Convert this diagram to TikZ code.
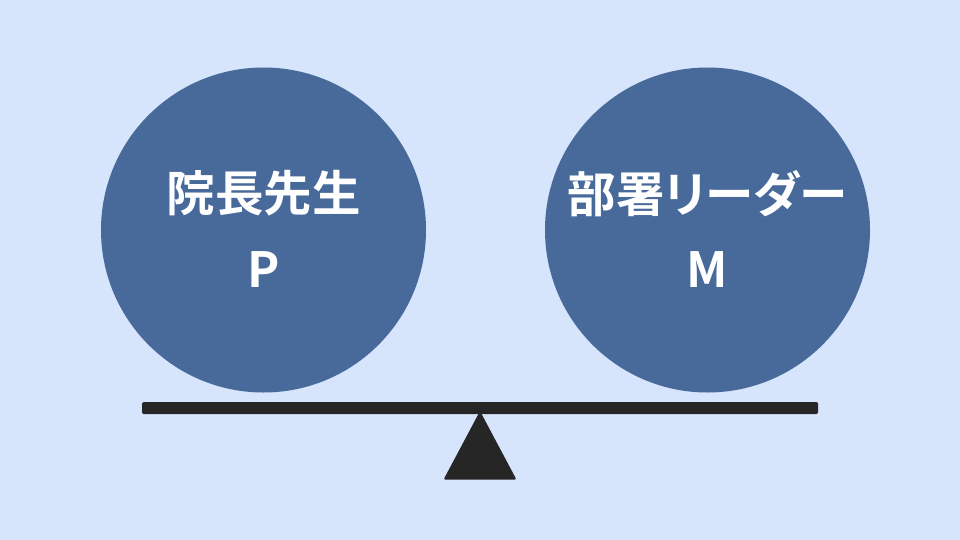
\documentclass[tikz,border=0pt]{standalone}
\usepackage{fontspec}
\setmainfont{Noto Sans CJK JP}[BoldFont={* Bold}]
\definecolor{bgblue}{HTML}{D6E4FC}
\definecolor{ballblue}{HTML}{476A9A}
\definecolor{beamdark}{HTML}{262626}
\tikzset{ball/.style={circle, fill=ballblue, minimum size=325\pgflinewidth, inner sep=0pt},
	ballname/.style={text=white, font=\bfseries\fontsize{48.5pt}{48.5pt}\selectfont, inner sep=0pt}}
\begin{document}
\begin{tikzpicture}[x=1pt, y=-1pt, line width=1pt]
	\fill[bgblue] (0, 0) rectangle (960, 540);
	\useasboundingbox (0, 0) rectangle (960, 540);
	\node[ball] (LEFT)at(263.5, 230) {};
	\node[ball] (RIGHT)at(707.5, 230) {};
	\node[ballname] (LEFTNAME)at(263.5, 193.5) {院長先生};
	\node[ballname] (LEFTKEY)at(263.5, 270) {P};
	\node[ballname] (RIGHTNAME)at(707.5, 193.5) {\addfontfeature{RawFeature=+palt}部署リーダー};
	\node[ballname] (RIGHTKEY)at(707.5, 270) {M};
	\fill[beamdark, rounded corners=1.5pt] (142, 402) rectangle (818, 414);
	\fill[beamdark, rounded corners=1.5pt] (480, 411) -- (516.5, 479.7) -- (443.5, 479.7) -- cycle;
\end{tikzpicture}
\end{document}
